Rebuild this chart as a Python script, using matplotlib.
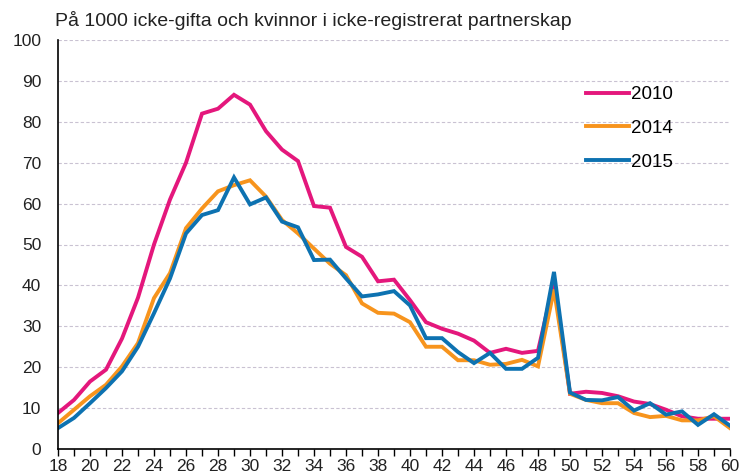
import numpy as np
import matplotlib

matplotlib.use("Agg")
import matplotlib.pyplot as plt

plt.rcParams["font.family"] = ["Liberation Sans", "DejaVu Sans"]

ages = list(range(18, 61))

# Rates per 1000 unmarried women / women not in registered partnership
rate_2010 = [8.8, 12.0, 16.5, 19.4, 27.0, 37.0, 50.0, 61.0, 70.0, 82.0,
             83.2, 86.6, 84.2, 77.7, 73.2, 70.4, 59.4, 59.0, 49.4, 47.0,
             41.0, 41.4, 36.4, 31.0, 29.4, 28.2, 26.5, 23.5, 24.5, 23.5,
             24.0, 41.0, 13.5, 14.0, 13.7, 12.9, 11.6, 11.0, 9.6, 8.0,
             7.4, 7.4, 7.4]
rate_2014 = [6.3, 9.6, 12.9, 15.7, 20.2, 25.9, 36.9, 43.0, 54.0, 58.8,
             63.0, 64.5, 65.7, 61.7, 56.0, 52.7, 49.0, 45.3, 42.5, 35.6,
             33.3, 33.1, 31.0, 25.0, 25.0, 21.7, 21.7, 20.6, 20.8, 21.8,
             20.2, 39.0, 13.5, 12.0, 11.2, 11.2, 8.8, 7.8, 8.1, 7.0,
             7.0, 8.0, 5.1]
rate_2015 = [5.1, 7.6, 11.2, 14.9, 19.0, 25.0, 33.2, 41.7, 52.7, 57.2,
             58.4, 66.4, 59.8, 61.5, 55.6, 54.2, 46.2, 46.3, 41.7, 37.3,
             37.8, 38.6, 35.1, 27.1, 27.1, 23.7, 21.0, 23.5, 19.6, 19.6,
             22.3, 43.3, 13.8, 12.0, 11.9, 12.7, 9.4, 11.2, 8.4, 9.2,
             5.9, 8.5, 5.7]

series = [("2010", rate_2010, "#e4177c"),
          ("2014", rate_2014, "#f7941d"),
          ("2015", rate_2015, "#0d72b1")]

fig = plt.figure(figsize=(7.46, 4.76), dpi=100)
ax = fig.add_axes([58 / 746, 27 / 476, 672 / 746, 409 / 476])

for label, vals, color in series:
    ax.plot(ages, vals, color=color, lw=2.8, label=label, solid_joinstyle="miter")

ax.set_xlim(18, 60)
ax.set_ylim(0, 100)
ax.set_yticks(np.arange(0, 101, 10))
ax.set_xticks(np.arange(18, 61, 2))
ax.set_xticks(np.arange(18, 61, 1), minor=True)
ax.tick_params(axis="y", length=0, pad=12, labelsize=12.5, colors="#222222")
ax.tick_params(axis="x", which="both", length=5, width=1, direction="out",
               labelsize=12.5, colors="#222222", pad=2)
ax.tick_params(axis="x", which="both", color="black")

ax.grid(axis="y", color="#c9c2d2", linestyle=(0, (3, 2)), linewidth=0.8)
ax.set_axisbelow(True)
for side in ("top", "right"):
    ax.spines[side].set_visible(False)
for side in ("left", "bottom"):
    ax.spines[side].set_linewidth(1.2)
    ax.spines[side].set_color("black")

ax.legend(loc="upper left", bbox_to_anchor=((586 - 58) / 672, (449 - 86) / 409),
          frameon=False, fontsize=13.5, handlelength=2.3, handletextpad=0.1,
          labelspacing=0.89, borderpad=0, borderaxespad=0)

fig.text(55 / 746, 1 - 21 / 476, "På 1000 icke-gifta och kvinnor i icke-registrerat partnerskap",
         fontsize=14, va="center", ha="left", color="#222222")

fig.savefig("out.png", dpi=100)
